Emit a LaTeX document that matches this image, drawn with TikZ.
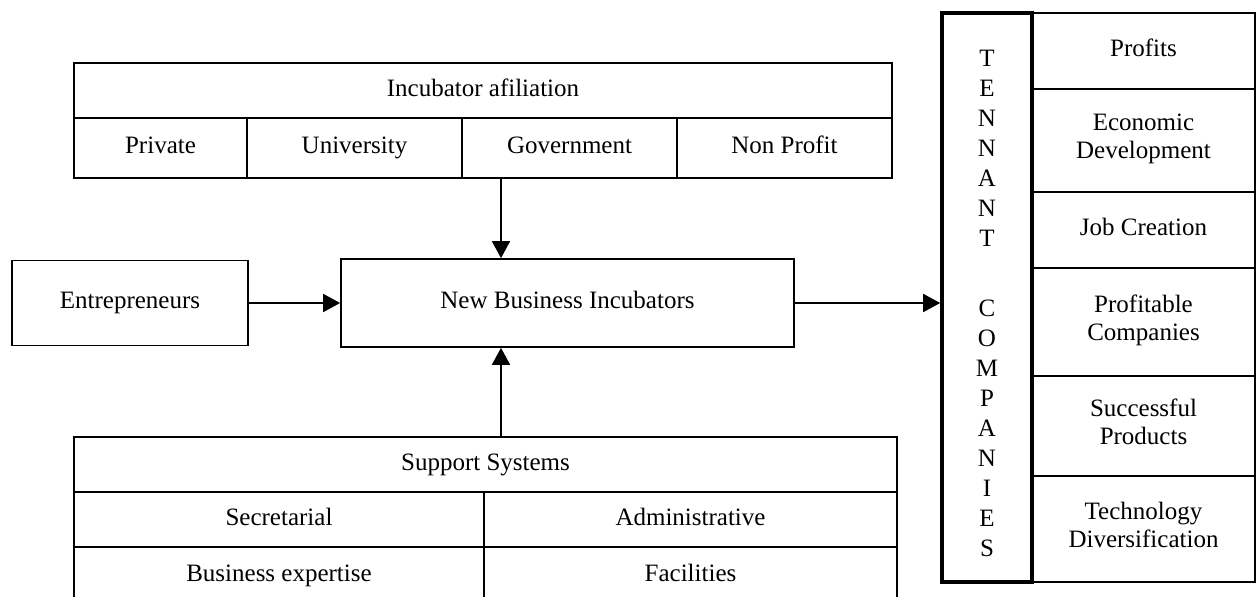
\documentclass[tikz,border=0pt]{standalone}
\usepackage{fontspec}
\setmainfont{Liberation Serif}
\usetikzlibrary{arrows.meta}

\begin{document}
\begin{tikzpicture}[x=0.5pt,y=-0.5pt,
        cell/.style={draw,line width=0.85pt,inner sep=0pt,align=center,
            font=\fontsize{12.5}{14}\selectfont,
            execute at begin node=\strut,execute at end node=\strut},
        link/.style={line width=0.85pt,-{Triangle[length=8.5pt,width=9pt]}}]
            \useasboundingbox (0,0) rectangle (1256,597);
            \node[cell,minimum width=409pt,minimum height=27.5pt] (affil) at (483,90.5) {Incubator afiliation};
            \node[cell,minimum width=86.5pt,minimum height=30pt] (priv) at (160.5,148) {Private};
            \node[cell,minimum width=107.5pt,minimum height=30pt] (univ) at (354.5,148) {University};
            \node[cell,minimum width=107.5pt,minimum height=30pt] (gov) at (569.5,148) {Government};
            \node[cell,minimum width=107.5pt,minimum height=30pt] (nonprof) at (784.5,148) {Non Profit};
            \node[cell,minimum width=118pt,minimum height=42.5pt] (ent) at (130,303) {Entrepreneurs};
            \node[cell,minimum width=226.5pt,minimum height=44pt] (nbi) at (567.5,303) {New Business Incubators};
            \node[cell,minimum width=411.5pt,minimum height=27.5pt] (sup) at (485.5,464.5) {Support Systems};
            \node[cell,minimum width=205pt,minimum height=27.5pt] (secr) at (279,519.5) {Secretarial};
            \node[cell,minimum width=206.5pt,minimum height=27.5pt] (admin) at (690.5,519.5) {Administrative};
            \node[cell,minimum width=205pt,minimum height=29pt] (bexp) at (279,576) {Business expertise};
            \node[cell,minimum width=206.5pt,minimum height=29pt] (facil) at (690.5,576) {Facilities};
            \node[cell,line width=1.8pt,minimum width=45pt,minimum height=284.5pt,
                font=\fontsize{12.5}{15}\selectfont] (tc) at (987,297.5)
                {\rule{0pt}{18.5pt}T\\E\\N\\N\\A\\N\\T\\[20pt]C\\O\\M\\P\\A\\N\\I\\E\\S};
            \node[cell,minimum width=111.5pt,minimum height=38pt] (prof) at (1143.5,51) {Profits};
            \node[cell,minimum width=111.5pt,minimum height=51.5pt] (econ) at (1143.5,140.5) {Economic\\Development};
            \node[cell,minimum width=111.5pt,minimum height=38pt] (jobs) at (1143.5,230) {Job Creation};
            \node[cell,minimum width=111.5pt,minimum height=54pt] (pcomp) at (1143.5,322) {Profitable\\Companies};
            \node[cell,minimum width=111.5pt,minimum height=50pt] (sprod) at (1143.5,426) {Successful\\Products};
            \node[cell,minimum width=111.5pt,minimum height=53pt] (tdiv) at (1143.5,529) {Technology\\Diversification};
            \coordinate (drop) at (501,0);
            \draw[link] (drop |- gov.south) -- (drop |- nbi.north);
            \draw[link] (drop |- sup.north) -- (drop |- nbi.south);
            \draw[link] (ent.east) -- (ent.east -| nbi.west);
            \draw[link] (nbi.east) -- (nbi.east -| tc.west);
\end{tikzpicture}
\end{document}
